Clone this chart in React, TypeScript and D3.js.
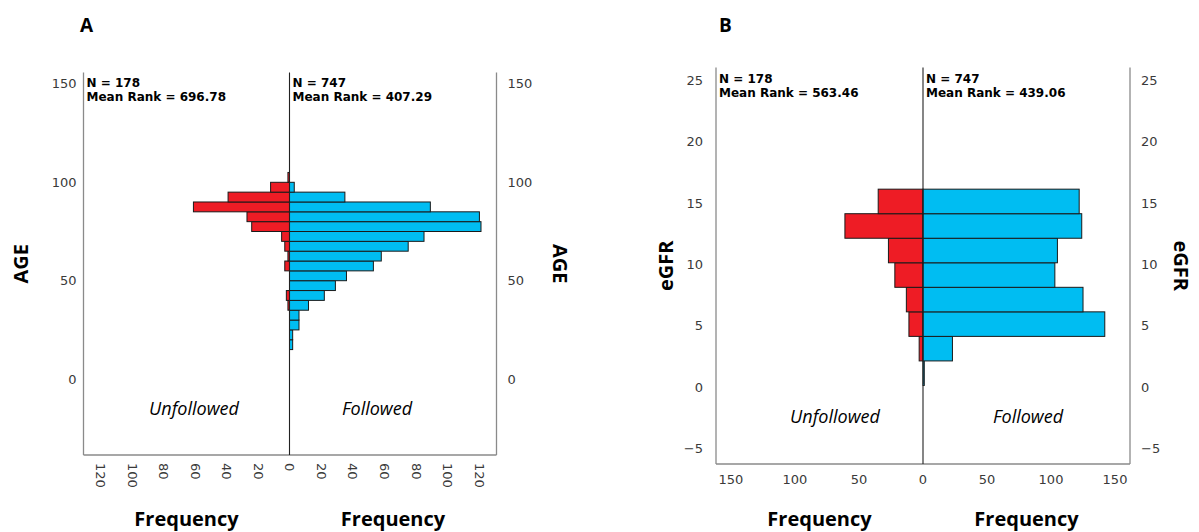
import React, { useEffect } from 'react';
import * as d3 from 'd3';

// ---------- Panel A: AGE ----------
const ageBins = [15, 20, 25, 30, 35, 40, 45, 50, 55, 60, 65, 70, 75, 80, 85, 90, 95, 100];
const ageBinWidth = 5;
const ageFollowed = [2, 2, 6, 6, 12, 22, 29, 36, 53, 58, 75, 85, 121, 120, 89, 35, 3, 0];
const ageUnfollowed = [0, 0, 0, 0, 1, 2, 0, 0, 3, 1, 3, 5, 24, 27, 61, 39, 12, 1];
const ageTicks = [0, 50, 100, 150];
const ageFreqTicks = [0, 20, 40, 60, 80, 100, 120];
const ageStats = { left: ['N = 178', 'Mean Rank = 696.78'], right: ['N = 747', 'Mean Rank = 407.29'] };

// ---------- Panel B: eGFR ----------
const egfrBins = [0.15, 2.15, 4.15, 6.15, 8.15, 10.15, 12.15, 14.15];
const egfrBinWidth = 2;
const egfrFollowed = [1, 23, 142, 125, 103, 105, 124, 122];
const egfrUnfollowed = [0, 3, 11, 13, 22, 27, 61, 35];
const egfrTicks = [-5, 0, 5, 10, 15, 20, 25];
const egfrFreqTicks = [0, 50, 100, 150];
const egfrStats = { left: ['N = 178', 'Mean Rank = 563.46'], right: ['N = 747', 'Mean Rank = 439.06'] };

const RED = '#ee1c25';
const BLUE = '#00bdf2';
const FRAME = '#8a8a8a';
const TICK_COLOR = '#3a3a3a';
const TITLE_FONT = "'Open Sans', 'Noto Sans', sans-serif";
const TICK_FONT = "'DejaVu Sans', sans-serif";

type PanelProps = {
  letter: string;
  letterX: number;
  xLeft: number;
  xCenter: number;
  xRight: number;
  yTop: number;
  yBottom: number;
  yScale: d3.ScaleLinear<number, number>;
  freqMax: number;
  yTicks: number[];
  freqTicks: number[];
  bins: number[];
  binWidth: number;
  followed: number[];
  unfollowed: number[];
  stats: { left: string[]; right: string[] };
  title: string;
  leftTitleX: number;
  rightTitleX: number;
  leftLabelGap: number;
  rightLabelGap: number;
  rotatedFreq: boolean;
  statsY: number;
  unfollowedX: number;
  followedX: number;
  groupLabelY: number;
};

function Panel(p: PanelProps) {
  const xL = d3.scaleLinear().domain([0, p.freqMax]).range([p.xCenter, p.xLeft]);
  const xR = d3.scaleLinear().domain([0, p.freqMax]).range([p.xCenter, p.xRight]);
  const midY = (p.yTop + p.yBottom) / 2;
  return (
    <g>
      <text x={p.letterX} y={25} fontFamily={TITLE_FONT} fontWeight={700} fontSize={19}
        dominantBaseline="central" fill="#000">{p.letter}</text>

      {/* bars */}
      {p.bins.map((b, i) => {
        const y0 = p.yScale(b);
        const y1 = p.yScale(b + p.binWidth);
        const h = y0 - y1;
        return (
          <g key={'bar' + i}>
            {p.unfollowed[i] > 0 && (
              <rect x={xL(p.unfollowed[i])} y={y1} width={p.xCenter - xL(p.unfollowed[i])} height={h}
                fill={RED} stroke="#1a1a1a" strokeWidth={1} />
            )}
            {p.followed[i] > 0 && (
              <rect x={p.xCenter} y={y1} width={xR(p.followed[i]) - p.xCenter} height={h}
                fill={BLUE} stroke="#1a1a1a" strokeWidth={1} />
            )}
          </g>
        );
      })}

      {/* frame */}
      <line x1={p.xLeft} x2={p.xLeft} y1={p.yTop} y2={p.yBottom} stroke={FRAME} strokeWidth={1.3} />
      <line x1={p.xRight} x2={p.xRight} y1={p.yTop} y2={p.yBottom} stroke={FRAME} strokeWidth={1.3} />
      <line x1={p.xLeft} x2={p.xRight} y1={p.yBottom} y2={p.yBottom} stroke={FRAME} strokeWidth={1.3} />
      <line x1={p.xCenter} x2={p.xCenter} y1={p.yTop} y2={p.yBottom} stroke="#222" strokeWidth={1.1} />

      {/* y tick labels */}
      {p.yTicks.map((t) => (
        <g key={'yt' + t}>
          <text x={p.xLeft - p.leftLabelGap} y={p.yScale(t)} textAnchor="end" dominantBaseline="central"
            fontFamily={TICK_FONT} fontSize={13} fill={TICK_COLOR}>{t < 0 ? '\u2212' + Math.abs(t) : t}</text>
          <text x={p.xRight + p.rightLabelGap} y={p.yScale(t)} textAnchor="start" dominantBaseline="central"
            fontFamily={TICK_FONT} fontSize={13} fill={TICK_COLOR}>{t < 0 ? '\u2212' + Math.abs(t) : t}</text>
        </g>
      ))}

      {/* frequency tick labels */}
      {[...p.freqTicks.map((t) => ({ t, x: xL(t), k: 'l' })), ...p.freqTicks.filter((t) => t > 0).map((t) => ({ t, x: xR(t), k: 'r' }))].map(({ t, x, k }) =>
        p.rotatedFreq ? (
          <text key={'ft' + k + t} transform={`translate(${x},${p.yBottom + 8}) rotate(90)`} textAnchor="start"
            dominantBaseline="central" fontFamily={TICK_FONT} fontSize={13} fill={TICK_COLOR}>{t}</text>
        ) : (
          <text key={'ft' + k + t} x={x} y={p.yBottom + 15} textAnchor="middle" dominantBaseline="central"
            fontFamily={TICK_FONT} fontSize={13} fill={TICK_COLOR}>{t}</text>
        )
      )}

      {/* stats annotations */}
      {p.stats.left.map((s, i) => (
        <text key={'sl' + i} x={p.xLeft + 3} y={p.statsY + i * 14} dominantBaseline="central"
          fontFamily={TICK_FONT} fontWeight={700} fontSize={12} fill="#000">{s}</text>
      ))}
      {p.stats.right.map((s, i) => (
        <text key={'sr' + i} x={p.xCenter + 3} y={p.statsY + i * 14} dominantBaseline="central"
          fontFamily={TICK_FONT} fontWeight={700} fontSize={12} fill="#000">{s}</text>
      ))}

      {/* group labels */}
      <text x={p.unfollowedX} y={p.groupLabelY} textAnchor="middle" dominantBaseline="central"
        fontFamily={TITLE_FONT} fontStyle="italic" fontSize={18} fill="#000">Unfollowed</text>
      <text x={p.followedX} y={p.groupLabelY} textAnchor="middle" dominantBaseline="central"
        fontFamily={TITLE_FONT} fontStyle="italic" fontSize={18} fill="#000">Followed</text>

      {/* axis titles */}
      <text transform={`translate(${p.leftTitleX},${midY}) rotate(-90)`} textAnchor="middle" dominantBaseline="central"
        fontFamily={TITLE_FONT} fontWeight={700} fontSize={20} fill="#000">{p.title}</text>
      <text transform={`translate(${p.rightTitleX},${midY}) rotate(90)`} textAnchor="middle" dominantBaseline="central"
        fontFamily={TITLE_FONT} fontWeight={700} fontSize={20} fill="#000">{p.title}</text>
      <text x={(p.xLeft + p.xCenter) / 2} y={518} textAnchor="middle" dominantBaseline="central"
        fontFamily={TITLE_FONT} fontWeight={700} fontSize={20} fill="#000">Frequency</text>
      <text x={(p.xCenter + p.xRight) / 2} y={518} textAnchor="middle" dominantBaseline="central"
        fontFamily={TITLE_FONT} fontWeight={700} fontSize={20} fill="#000">Frequency</text>
    </g>
  );
}

export default function App() {
  useEffect(() => {
    document.body.style.margin = '0';
  }, []);

  const ageY = d3.scaleLinear().domain([0, 150]).range([379.1, 83.9]);
  const egfrY = d3.scaleLinear().domain([0, 25]).range([387.3, 80.6]);

  return (
    <svg width={1199} height={532} style={{ position: 'absolute', left: 0, top: 0, background: '#fff' }}>
      <rect x={0} y={0} width={1199} height={532} fill="#fff" />
      <Panel
        letter="A" letterX={80}
        xLeft={83.5} xCenter={289.5} xRight={496.5} yTop={72.5} yBottom={455}
        yScale={ageY} freqMax={130.8}
        yTicks={ageTicks} freqTicks={ageFreqTicks}
        bins={ageBins} binWidth={ageBinWidth}
        followed={ageFollowed} unfollowed={ageUnfollowed}
        stats={ageStats} title="AGE"
        leftTitleX={20} rightTitleX={560}
        leftLabelGap={7} rightLabelGap={11}
        rotatedFreq={true} statsY={83}
        unfollowedX={194} followedX={377} groupLabelY={408}
      />
      <Panel
        letter="B" letterX={719}
        xLeft={716} xCenter={923} xRight={1130} yTop={67.5} yBottom={464}
        yScale={egfrY} freqMax={161.7}
        yTicks={egfrTicks} freqTicks={egfrFreqTicks}
        bins={egfrBins} binWidth={egfrBinWidth}
        followed={egfrFollowed} unfollowed={egfrUnfollowed}
        stats={egfrStats} title="eGFR"
        leftTitleX={665} rightTitleX={1181}
        leftLabelGap={13} rightLabelGap={11}
        rotatedFreq={false} statsY={79}
        unfollowedX={835} followedX={1028} groupLabelY={416}
      />
    </svg>
  );
}
